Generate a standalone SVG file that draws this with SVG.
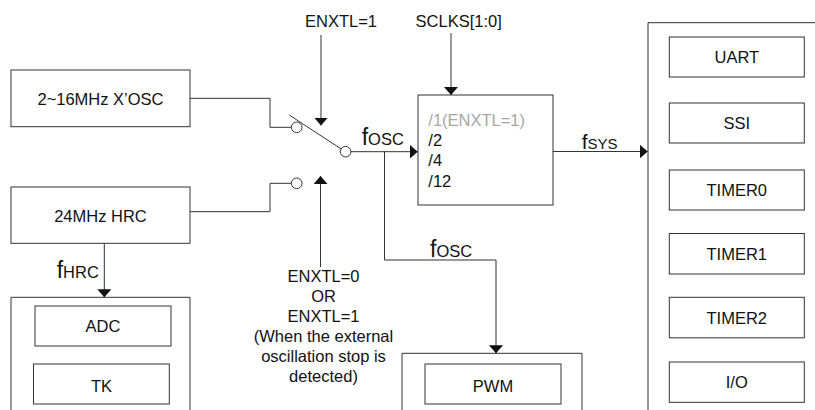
<svg xmlns="http://www.w3.org/2000/svg" width="815" height="410" viewBox="0 0 815 410">
<style>
  .box{fill:#fff;stroke:#333;stroke-width:1}
  .open{fill:none;stroke:#333;stroke-width:1}
  .ln{fill:none;stroke:#333;stroke-width:1}
  .t{font-family:"Liberation Sans",Arial,sans-serif;font-size:16.5px;fill:#111}
  .c{text-anchor:middle}
  .g{fill:#a6a6a6}
  .f{font-size:23px}
  .sub{font-size:16.5px}
  .sw{fill:#fff;stroke:#333;stroke-width:1}
</style>
<defs>
  <marker id="ah" viewBox="0 0 8 14" markerUnits="userSpaceOnUse" markerWidth="8" markerHeight="14" refX="8" refY="7" orient="auto">
    <path d="M0,0 L8,7 L0,14 z" fill="#111"/>
  </marker>
</defs>
<rect width="815" height="410" fill="#fff"/>

<g id="connectors">
  <path class="ln" d="M190,98.3 H270 V127.3 H291.4"/>
  <path class="ln" d="M190,211.7 H270 V183.3 H291.4"/>
  <path class="ln" d="M289.3,115 L341,148.9"/>
  <path class="ln" d="M350.3,151.7 H417.7" marker-end="url(#ah)"/>
  <path class="ln" d="M384.5,151.7 V260 H496 V353.3" marker-end="url(#ah)"/>
  <path class="ln" d="M553,151.5 H647.7" marker-end="url(#ah)"/>
  <path class="ln" d="M451,33 V95" marker-end="url(#ah)"/>
  <path class="ln" d="M321,35 V125.5" marker-end="url(#ah)"/>
  <path class="ln" d="M320.5,267 V176" marker-end="url(#ah)"/>
  <path class="ln" d="M104.3,243.3 V297.3" marker-end="url(#ah)"/>
  <circle class="sw" cx="296.7" cy="127.3" r="5.3"/>
  <circle class="sw" cx="345.6" cy="151.7" r="5.3"/>
  <circle class="sw" cx="296.7" cy="183.3" r="5.3"/>
  <text class="t" x="361.7" y="145"><tspan class="f">f</tspan><tspan class="sub">OSC</tspan></text>
  <text class="t" x="430" y="257.3"><tspan class="f">f</tspan><tspan class="sub">OSC</tspan></text>
  <text class="t" x="581.7" y="149"><tspan style="font-size:21px">f</tspan><tspan style="font-size:15px">SYS</tspan></text>
  <text class="t" x="56.7" y="278.3"><tspan class="f">f</tspan><tspan class="sub">HRC</tspan></text>
</g>

<g id="label-enxtl1">
  <text class="t c" x="341" y="26.7">ENXTL=1</text>
</g>
<g id="label-sclks">
  <text class="t c" x="458.7" y="26.7">SCLKS[1:0]</text>
</g>
<g id="label-enxtl0">
  <text class="t c" x="323.5" y="281.7">ENXTL=0</text>
  <text class="t c" x="323.5" y="301.7">OR</text>
  <text class="t c" x="323.5" y="321.7">ENXTL=1</text>
  <text class="t c" x="323.5" y="341.7">(When the external</text>
  <text class="t c" x="323.5" y="362">oscillation stop is</text>
  <text class="t c" x="323.5" y="382">detected)</text>
</g>

<g id="xosc">
  <rect class="box" x="11" y="70" width="179" height="56.7"/>
  <text class="t c" x="100.5" y="104.8">2~16MHz X’OSC</text>
</g>
<g id="hrc">
  <rect class="box" x="11" y="187" width="179" height="56.3"/>
  <text class="t c" x="100.5" y="221.5">24MHz HRC</text>
</g>

<g id="divider">
  <rect class="box" x="418" y="95" width="135" height="110"/>
  <text class="t g" x="428.3" y="125.7">/1(ENXTL=1)</text>
  <text class="t" x="428.3" y="146">/2</text>
  <text class="t" x="428.3" y="166.3">/4</text>
  <text class="t" x="428.3" y="186.7">/12</text>
</g>

<g id="hrc-group">
  <path class="open" d="M11,420 V297.3 H190 V420"/>
  <g id="adc">
    <rect class="box" x="35" y="306" width="136" height="40"/>
    <text class="t c" x="103" y="331.7">ADC</text>
  </g>
  <g id="tk">
    <rect class="box" x="33.5" y="364" width="135.8" height="40"/>
    <text class="t c" x="101.5" y="391.7">TK</text>
  </g>
</g>

<g id="pwm-group">
  <path class="open" d="M402,420 V353.3 H582 V420"/>
  <g id="pwm">
    <rect class="box" x="425" y="364" width="136" height="40"/>
    <text class="t c" x="493" y="391.7">PWM</text>
  </g>
</g>

<g id="sys-group">
  <path class="open" d="M820,22.7 H648 V420"/>
  <g id="uart">
    <rect class="box" x="669.3" y="37" width="135" height="40"/>
    <text class="t c" x="736.8" y="63">UART</text>
  </g>
  <g id="ssi">
    <rect class="box" x="669.3" y="103" width="135" height="40"/>
    <text class="t c" x="736.8" y="129">SSI</text>
  </g>
  <g id="timer0">
    <rect class="box" x="669.3" y="170" width="135" height="40"/>
    <text class="t c" x="736.8" y="196">TIMER0</text>
  </g>
  <g id="timer1">
    <rect class="box" x="669.3" y="233.5" width="135" height="40.5"/>
    <text class="t c" x="736.8" y="259.7">TIMER1</text>
  </g>
  <g id="timer2">
    <rect class="box" x="669.3" y="297.3" width="135" height="40.5"/>
    <text class="t c" x="736.8" y="323.5">TIMER2</text>
  </g>
  <g id="io">
    <rect class="box" x="669.3" y="362" width="135" height="40.3"/>
    <text class="t c" x="736.8" y="388">I/O</text>
  </g>
</g>
</svg>
